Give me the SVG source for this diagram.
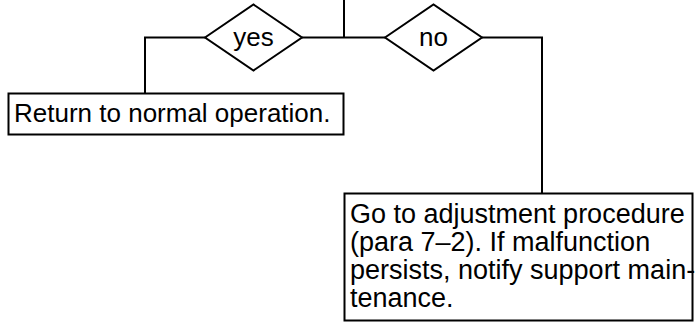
<svg xmlns="http://www.w3.org/2000/svg" width="697" height="323" viewBox="0 0 697 323">
<style>
  .shape { fill: #ffffff; stroke: #000000; stroke-width: 2; }
  .conn { fill: none; stroke: #000000; stroke-width: 2; }
  .t { font-family: "Liberation Sans", Arial, sans-serif; font-size: 26px; fill: #000000; }
  .big { font-size: 27px; }
</style>
<rect width="697" height="323" fill="#ffffff"/>
<g id="connectors">
  <polyline class="conn" points="344,0 344,37.5"/>
  <polyline class="conn" points="302,37.5 385,37.5"/>
  <polyline class="conn" points="205,37.5 145,37.5 145,94"/>
  <polyline class="conn" points="482,37.5 542,37.5 542,194"/>
</g>
<g id="yes">
  <polygon class="shape" points="205,37.5 253.5,4.5 302,37.5 253.5,70.5"/>
  <text class="t" x="253.5" y="46" text-anchor="middle">yes</text>
</g>
<g id="no">
  <polygon class="shape" points="385,37.5 433.5,4.5 482,37.5 433.5,70.5"/>
  <text class="t" x="433.5" y="46" text-anchor="middle">no</text>
</g>
<g id="return">
  <rect class="shape" x="8.5" y="93.5" width="335" height="41"/>
  <text class="t" x="14" y="122">Return to normal operation.</text>
</g>
<g id="adjust">
  <rect class="shape" x="344.5" y="193.5" width="348" height="127"/>
  <text class="t big" x="350" y="223">Go to adjustment procedure</text>
  <text class="t big" x="350" y="251">(para 7–2). If malfunction</text>
  <text class="t big" x="350" y="279">persists, notify support main-</text>
  <text class="t big" x="350" y="307">tenance.</text>
</g>
</svg>
